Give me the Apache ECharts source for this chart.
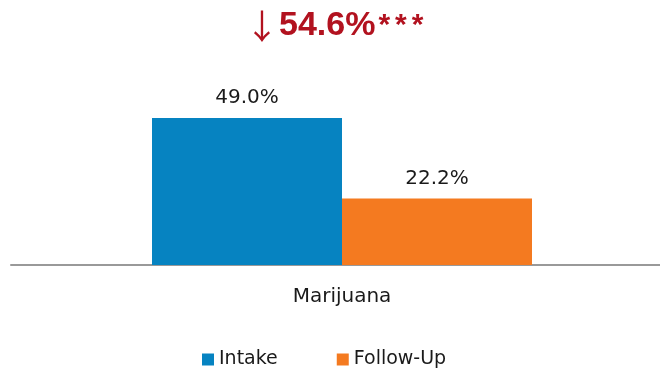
<!DOCTYPE html>
<html>
<head>
<meta charset="utf-8">
<script src="https://cdn.jsdelivr.net/npm/echarts@6/dist/echarts.min.js"></script>
<style>
  html, body { margin: 0; padding: 0; background: #fff; overflow: hidden; }
  #chart { width: 673px; height: 375px; }
</style>
</head>
<body>
<div id="chart"></div>
<script>
// Substance use at intake vs. follow-up
const categories = ['Marijuana'];
const seriesNames = ['Intake', 'Follow-Up'];
const intakeValues = [49.0];
const followUpValues = [22.2];
const changeArrow = '\u2193';
const changeText = '54.6%';
const significance = '***';

const colors = ['#0683c1', '#f47a20'];
const font = 'DejaVu Sans, sans-serif';
const textColor = '#1a1a1a';
const accent = '#b2121f';

const chart = echarts.init(document.getElementById('chart'), null, { renderer: 'canvas' });

const valueLabel = {
  show: true,
  position: 'top',
  distance: 10,
  formatter: p => p.value.toFixed(1) + '%',
  fontFamily: font,
  fontSize: 20,
  color: textColor
};

const stars = significance.split('').map(s => '{star|' + s + '}').join('');

chart.setOption({
  animation: false,
  color: colors,
  title: {
    text: '{arrow|' + changeArrow + '}{num|' + changeText + '}' + stars,
    left: 240,
    top: 4,
    textStyle: {
      rich: {
        arrow: {
          fontFamily: 'Noto Sans CJK SC, DejaVu Sans, sans-serif',
          fontWeight: 'normal',
          fontSize: 34,
          color: accent
        },
        num: {
          fontFamily: 'Liberation Sans, Arial, sans-serif',
          fontWeight: 'bold',
          fontSize: 34,
          color: accent
        },
        star: {
          fontFamily: 'Liberation Sans, Arial, sans-serif',
          fontWeight: 'bold',
          fontSize: 30,
          color: accent,
          padding: [0, 2, 0, 3]
        }
      }
    }
  },
  legend: {
    data: seriesNames,
    top: 345,
    left: 197,
    itemWidth: 12,
    itemHeight: 12,
    itemGap: 59,
    icon: 'rect',
    textStyle: { fontFamily: font, fontSize: 19, color: textColor }
  },
  grid: { left: 11, right: 0, top: 85, bottom: 110, containLabel: false },
  xAxis: {
    type: 'category',
    data: categories,
    axisLine: { lineStyle: { color: '#999999', width: 2 } },
    axisTick: { show: false },
    axisLabel: { fontFamily: font, fontSize: 20, color: textColor, margin: 22 }
  },
  yAxis: {
    type: 'value',
    min: 0,
    max: 60,
    show: false
  },
  series: [
    {
      name: seriesNames[0],
      type: 'bar',
      data: intakeValues,
      barWidth: 190,
      barGap: '0%',
      label: valueLabel
    },
    {
      name: seriesNames[1],
      type: 'bar',
      data: followUpValues,
      barWidth: 190,
      label: valueLabel
    }
  ]
});
</script>
</body>
</html>
